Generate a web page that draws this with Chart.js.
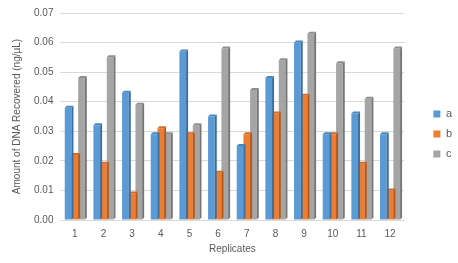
<!DOCTYPE html>
<html>
<head>
<meta charset="utf-8">
<script src="https://cdn.jsdelivr.net/npm/chart.js@4/dist/chart.umd.min.js"></script>
<style>
  html, body { margin: 0; padding: 0; background: #fff; }
  #wrap { width: 458px; height: 263px; }
</style>
</head>
<body>
<div id="wrap"><canvas id="chart"></canvas></div>
<script>
const replicates = ['1', '2', '3', '4', '5', '6', '7', '8', '9', '10', '11', '12'];
const seriesA = [0.038, 0.032, 0.043, 0.029, 0.057, 0.035, 0.025, 0.048, 0.060, 0.029, 0.036, 0.029];
const seriesB = [0.022, 0.019, 0.009, 0.031, 0.029, 0.016, 0.029, 0.036, 0.042, 0.029, 0.019, 0.010];
const seriesC = [0.048, 0.055, 0.039, 0.029, 0.032, 0.058, 0.044, 0.054, 0.063, 0.053, 0.041, 0.058];

// fake 3d: side + top faces drawn right after each dataset
const depth = 2;
const bar3d = {
  id: 'bar3d',
  afterInit(chart) {
    // give the legend a bit more room so the plot area matches the original
    const lg = chart.legend;
    const fit = lg.fit;
    lg.fit = function () { fit.call(this); this.width += 14; };
  },
  afterLayout(chart) {
    // push legend items further right, like the original
    chart.legend.left += 20;
    chart.legend.right += 20;
  },
  afterDatasetDraw(chart, args) {
    const ds = chart.data.datasets[args.index];
    const ctx = chart.ctx;
    ctx.save();
    args.meta.data.forEach(bar => {
      const { x, y, base, width } = bar.getProps(['x', 'y', 'base', 'width'], true);
      const l = x - width / 2, r = x + width / 2;
      ctx.fillStyle = ds.sideColor;
      ctx.beginPath();
      ctx.moveTo(r, y);
      ctx.lineTo(r + depth, y - depth);
      ctx.lineTo(r + depth, base - depth);
      ctx.lineTo(r, base);
      ctx.closePath();
      ctx.fill();
      ctx.fillStyle = ds.topColor;
      ctx.beginPath();
      ctx.moveTo(l, y);
      ctx.lineTo(l + depth, y - depth);
      ctx.lineTo(r + depth, y - depth);
      ctx.lineTo(r, y);
      ctx.closePath();
      ctx.fill();
    });
    ctx.restore();
  }
};

new Chart(document.getElementById('chart'), {
  type: 'bar',
  data: {
    labels: replicates,
    datasets: [
      { label: 'a', data: seriesA, backgroundColor: '#5B9BD5', sideColor: '#3A6E9E', topColor: '#4A86BE' },
      { label: 'b', data: seriesB, backgroundColor: '#ED7D31', sideColor: '#B5571A', topColor: '#D56A22' },
      { label: 'c', data: seriesC, backgroundColor: '#A5A5A5', sideColor: '#767676', topColor: '#8E8E8E' }
    ]
  },
  options: {
    responsive: true,
    maintainAspectRatio: false,
    animation: false,
    datasets: { bar: { categoryPercentage: 0.7, barPercentage: 1.0 } },
    layout: { padding: { top: 9, right: 2, left: 7, bottom: 4 } },
    plugins: {
      legend: {
        position: 'right',
        labels: {
          boxWidth: 7, boxHeight: 7, padding: 9,
          color: '#595959',
          font: { family: 'Liberation Sans', size: 11 }
        }
      },
      tooltip: { enabled: false }
    },
    scales: {
      x: {
        grid: { display: false },
        border: { display: false },
        ticks: { color: '#595959', font: { family: 'Liberation Sans', size: 10 }, padding: 0 },
        title: { display: true, text: 'Replicates', color: '#595959', font: { family: 'Liberation Sans', size: 10 }, padding: { top: 3, bottom: 4 } }
      },
      y: {
        min: 0, max: 0.07,
        ticks: {
          stepSize: 0.01, color: '#595959', padding: 7,
          font: { family: 'Liberation Sans', size: 10 },
          callback: v => v.toFixed(2)
        },
        grid: { color: '#D9D9D9', drawTicks: false },
        border: { display: false },
        title: { display: true, text: 'Amount of DNA Recovered (ng/µL)', color: '#595959', font: { family: 'Liberation Sans', size: 10 }, padding: { bottom: 4 } }
      }
    }
  },
  plugins: [bar3d]
});
</script>
</body>
</html>
